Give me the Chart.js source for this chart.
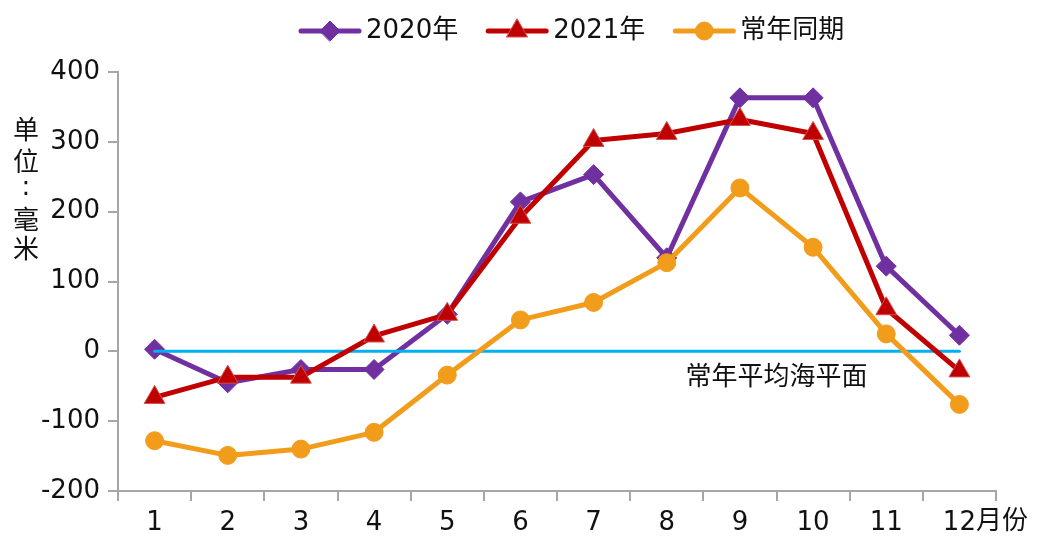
<!DOCTYPE html>
<html>
<head>
<meta charset="utf-8">
<script src="https://cdn.jsdelivr.net/npm/chart.js@4"></script>
<style>
  html, body { margin: 0; padding: 0; background: #fff; }
  #wrap { width: 1037px; height: 537px; position: relative; }
</style>
</head>
<body>
<div id="wrap"><canvas id="seaChart"></canvas></div>
<script>
// monthly sea level anomaly (mm)
const months = ['1', '2', '3', '4', '5', '6', '7', '8', '9', '10', '11', '12'];
const level2020 = [3, -45, -26, -26, 53, 214, 253, 134, 363, 363, 122, 23];
const level2021 = [-66, -37, -37, 22, 53, 192, 302, 312, 332, 312, 61, -28];
const levelNormal = [-128, -149, -140, -116, -34, 45, 70, 127, 234, 149, 25, -76];
const meanLevel = [0, 0, 0, 0, 0, 0, 0, 0, 0, 0, 0, 0];
const yTicks = [-200, -100, 0, 100, 200, 300, 400];

const FONT = "'DejaVu Sans', 'Noto Sans CJK SC', sans-serif";
const AXIS_GRAY = '#a6a6a6';

// legend drawn by hand: line + marker + label, in one row
const legendPlugin = {
    id: 'lineLegend',
    afterDraw(chart) {
        const ctx = chart.ctx;
        const items = chart.data.datasets.filter(ds => ds.showInLegend);
        items.sort((a, b) => a.legendIndex - b.legendIndex);
        ctx.save();
        ctx.font = '26px ' + FONT;
        ctx.textBaseline = 'middle';
        let x = 301;
        const y = 31;
        items.forEach(ds => {
            ctx.strokeStyle = ds.borderColor;
            ctx.lineWidth = 5;
            ctx.lineCap = 'round';
            ctx.beginPath();
            ctx.moveTo(x, y);
            ctx.lineTo(x + 58, y);
            ctx.stroke();
            ctx.fillStyle = ds.pointBackgroundColor;
            ctx.strokeStyle = ds.pointBorderColor;
            ctx.lineWidth = ds.pointBorderWidth;
            Chart.helpers.drawPoint(ctx, {
                pointStyle: ds.pointStyle,
                radius: ds.pointRadius,
                rotation: 0,
                borderWidth: ds.pointBorderWidth
            }, x + 29, y);
            ctx.fillStyle = '#111';
            ctx.textAlign = 'left';
            ctx.fillText(ds.label, x + 65, y);
            x += 65 + ctx.measureText(ds.label).width + 30;
        });
        ctx.restore();
    }
};

// axis captions and the note under the mean level line
const captionPlugin = {
    id: 'captions',
    afterDraw(chart) {
        const ctx = chart.ctx;
        const xs = chart.scales.x;
        const ys = chart.scales.y;
        ctx.save();
        ctx.fillStyle = '#111';
        ctx.textBaseline = 'middle';
        ctx.textAlign = 'center';

        // vertical unit caption
        ctx.font = '26px ' + FONT;
        const unitChars = [['单', 132], ['位', 164], [':', 188], ['毫', 222], ['米', 251]];
        unitChars.forEach(([ch, cy]) => ctx.fillText(ch, 26, cy));

        // "月份" right after the last month label
        ctx.textAlign = 'left';
        const lastX = xs.getPixelForValue(months.length - 1);
        const lastW = ctx.measureText(months[months.length - 1]).width;
        ctx.fillText('月份', lastX + lastW / 2, 522);

        // mean sea level note
        ctx.textAlign = 'center';
        const noteX = (xs.getPixelForValue(8) + xs.getPixelForValue(9)) / 2;
        ctx.fillText('常年平均海平面', noteX, ys.getPixelForValue(0) + 27);
        ctx.restore();
    }
};

new Chart(document.getElementById('seaChart'), {
    type: 'line',
    data: {
        labels: months,
        datasets: [
            {
                label: '2020年',
                data: level2020,
                borderColor: '#7030a0',
                borderWidth: 5,
                pointStyle: 'rectRot',
                pointRadius: 10,
                pointBackgroundColor: '#7030a0',
                pointBorderColor: '#7030a0',
                pointBorderWidth: 1,
                order: 3,
                showInLegend: true,
                legendIndex: 0
            },
            {
                label: '2021年',
                data: level2021,
                borderColor: '#c00000',
                borderWidth: 5,
                pointStyle: 'triangle',
                pointRadius: 12,
                pointBackgroundColor: '#c00000',
                pointBorderColor: '#d05050',
                pointBorderWidth: 1,
                order: 1,
                showInLegend: true,
                legendIndex: 1
            },
            {
                label: '常年平均海平面',
                data: meanLevel,
                borderColor: '#00b0f0',
                borderWidth: 3,
                pointRadius: 0,
                order: 2
            },
            {
                label: '常年同期',
                data: levelNormal,
                borderColor: '#f29c1c',
                borderWidth: 5,
                pointStyle: 'circle',
                pointRadius: 9,
                pointBackgroundColor: '#f29c1c',
                pointBorderColor: '#f29c1c',
                pointBorderWidth: 1,
                order: 0,
                showInLegend: true,
                legendIndex: 2
            }
        ]
    },
    options: {
        responsive: true,
        maintainAspectRatio: false,
        animation: false,
        layout: { padding: { left: 0, right: 41, top: 72, bottom: 0 } },
        elements: { line: { tension: 0, borderJoinStyle: 'round', borderCapStyle: 'round' } },
        plugins: {
            legend: { display: false },
            tooltip: { enabled: false }
        },
        scales: {
            x: {
                offset: true,
                afterFit: (scale) => { scale.height = 46; },
                border: { display: true, color: AXIS_GRAY, width: 2 },
                grid: {
                    offset: true,
                    drawOnChartArea: false,
                    drawTicks: true,
                    tickLength: 10,
                    color: AXIS_GRAY,
                    lineWidth: 2
                },
                ticks: {
                    color: '#111',
                    font: { family: FONT, size: 26 },
                    padding: 7,
                    maxRotation: 0,
                    autoSkip: false
                }
            },
            y: {
                min: yTicks[0],
                max: yTicks[yTicks.length - 1],
                afterFit: (scale) => { scale.width = 118; },
                afterBuildTicks: (scale) => { scale.ticks = yTicks.map(v => ({ value: v })); },
                border: { display: true, color: AXIS_GRAY, width: 2 },
                grid: {
                    drawOnChartArea: false,
                    drawTicks: true,
                    tickLength: 10,
                    color: AXIS_GRAY,
                    lineWidth: 2
                },
                ticks: {
                    color: '#111',
                    font: { family: FONT, size: 26 },
                    padding: 8
                }
            }
        }
    },
    plugins: [legendPlugin, captionPlugin]
});
</script>
</body>
</html>
